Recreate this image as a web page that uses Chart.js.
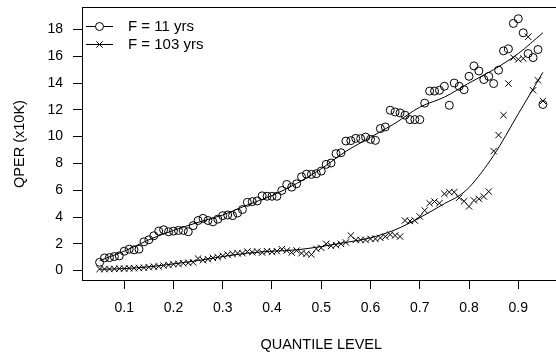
<!DOCTYPE html>
<html><head><meta charset="utf-8">
<script src="https://cdn.jsdelivr.net/npm/chart.js@4.4.1/dist/chart.umd.min.js"></script>
<style>
html,body{margin:0;padding:0;overflow:hidden;background:#fff;}
#wrap{width:556px;height:355px;overflow:hidden;position:relative;}
#c{display:block;}
</style></head><body>
<div id="wrap"><canvas id="c" width="566" height="355"></canvas></div>
<script>
// ---- data ----
const quantiles = [0.05,0.06,0.07,0.08,0.09,0.10,0.11,0.12,0.13,0.14,0.15,0.16,0.17,0.18,0.19,0.20,0.21,0.22,0.23,0.24,0.25,0.26,0.27,0.28,0.29,0.30,0.31,0.32,0.33,0.34,0.35,0.36,0.37,0.38,0.39,0.40,0.41,0.42,0.43,0.44,0.45,0.46,0.47,0.48,0.49,0.50,0.51,0.52,0.53,0.54,0.55,0.56,0.57,0.58,0.59,0.60,0.61,0.62,0.63,0.64,0.65,0.66,0.67,0.68,0.69,0.70,0.71,0.72,0.73,0.74,0.75,0.76,0.77,0.78,0.79,0.80,0.81,0.82,0.83,0.84,0.85,0.86,0.87,0.88,0.89,0.90,0.91,0.92,0.93,0.94,0.95];
const qperF11 = [0.62,0.95,0.97,1.05,1.1,1.45,1.6,1.55,1.6,2.15,2.3,2.6,2.95,3.05,2.9,2.95,3.0,3.0,2.9,3.36,3.74,3.9,3.74,3.64,3.84,4.1,4.15,4.1,4.3,4.56,5.1,5.15,5.2,5.58,5.55,5.55,5.55,5.98,6.43,6.23,6.48,7.0,7.2,7.18,7.23,7.43,7.93,8.03,8.73,8.8,9.67,9.7,9.87,9.85,9.97,9.8,9.72,10.6,10.72,11.97,11.84,11.77,11.6,11.27,11.27,11.27,12.5,13.4,13.4,13.46,13.76,12.34,14.0,13.76,13.5,14.5,15.28,14.9,14.26,14.5,13.96,14.96,16.4,16.55,18.45,18.8,17.75,16.2,15.9,16.5,12.4];
const qperF103 = [0.12,0.12,0.12,0.13,0.15,0.15,0.17,0.18,0.2,0.22,0.25,0.3,0.32,0.38,0.42,0.48,0.5,0.55,0.58,0.62,0.9,0.78,0.85,0.95,1.0,1.1,1.2,1.25,1.3,1.3,1.42,1.38,1.42,1.35,1.45,1.4,1.45,1.6,1.5,1.35,1.5,1.3,1.25,1.2,1.62,1.7,2.0,1.85,1.9,2.0,2.1,2.62,2.29,2.29,2.29,2.37,2.37,2.44,2.54,2.69,2.62,2.54,3.74,3.7,3.74,4.04,4.49,5.03,5.16,5.03,5.73,5.86,5.86,5.44,5.18,4.79,5.24,5.36,5.53,5.9,8.92,10.12,11.6,13.96,15.9,15.76,15.83,17.45,13.46,14.2,12.66];
const fitQuantiles11 = [0.05,0.10,0.15,0.20,0.25,0.30,0.35,0.40,0.45,0.50,0.55,0.60,0.65,0.70,0.75,0.80,0.85,0.90,0.95];
const fitF11 = [0.75,1.45,2.3,3.0,3.6,4.15,4.9,5.6,6.5,7.6,8.9,9.95,11.0,12.2,12.95,14.0,15.0,16.2,17.75];
const fitQuantiles103 = [0.05,0.10,0.15,0.20,0.25,0.30,0.35,0.40,0.45,0.50,0.55,0.60,0.65,0.70,0.75,0.78,0.80,0.85,0.90,0.95];
const fitF103 = [0.1,0.15,0.28,0.5,0.75,1.05,1.3,1.45,1.55,1.8,2.1,2.45,3.05,3.95,5.0,5.6,6.2,8.6,11.7,14.8];
const xTickValues = [0.1,0.2,0.3,0.4,0.5,0.6,0.7,0.8,0.9];
const xTickLabels = ['0.1','0.2','0.3','0.4','0.5','0.6','0.7','0.8','0.9'];
const yTickValues = [0,2,4,6,8,10,12,14,16,18];
const yTickLabels = ['0','2','4','6','8','10','12','14','16','18'];
const seriesLabels = ['F = 11 yrs','F = 103 yrs'];
const xTitle = 'QUANTILE LEVEL';
const yTitle = 'QPER (x10K)';

const FONT = '"Liberation Sans", Arial, Helvetica, sans-serif';
const pts = (xs, ys) => xs.map((x, i) => ({x: x, y: ys[i]}));

const legendPlugin = {
  id: 'rlegend',
  afterDatasetsDraw(chart) {
    const ctx = chart.ctx;
    const a = chart.chartArea;
    ctx.save();
    // top border of box
    ctx.strokeStyle = '#000';
    ctx.lineWidth = 1;
    ctx.beginPath();
    ctx.moveTo(a.left, Math.round(a.top) - 0.5);
    ctx.lineTo(a.right + 2, Math.round(a.top) - 0.5);
    ctx.stroke();
    const styles = ['circle', 'crossRot'];
    const rows = [26.5, 44.5];
    seriesLabels.forEach((lab, i) => {
      const y = rows[i];
      ctx.strokeStyle = '#000';
      ctx.lineWidth = 1;
      ctx.beginPath();
      ctx.moveTo(86, y); ctx.lineTo(113, y); ctx.stroke();
      ctx.fillStyle = '#fff';
      Chart.helpers.drawPoint(ctx, {pointStyle: styles[i], radius: i === 0 ? 4 : 4.5, rotation: 0, borderWidth: 1}, 99.5, y);
      ctx.fillStyle = '#000';
      ctx.font = '15px ' + FONT;
      ctx.textBaseline = 'middle';
      ctx.textAlign = 'left';
      ctx.fillText(lab, 128, y + 0.5);
    });
    ctx.restore();
  }
};

new Chart(document.getElementById('c'), {
  type: 'scatter',
  data: {
    datasets: [
      { label: seriesLabels[0], data: pts(quantiles, qperF11), pointStyle: 'circle', pointRadius: 4,
        borderColor: '#000', backgroundColor: 'rgba(0,0,0,0)', borderWidth: 1, showLine: false },
      { label: seriesLabels[1], data: pts(quantiles, qperF103), pointStyle: 'crossRot', pointRadius: 4.5,
        borderColor: '#000', backgroundColor: 'rgba(0,0,0,0)', borderWidth: 1, showLine: false },
      { label: 'fit11', data: pts(fitQuantiles11, fitF11), showLine: true, pointRadius: 0,
        borderColor: '#000', borderWidth: 1, cubicInterpolationMode: 'monotone', fill: false },
      { label: 'fit103', data: pts(fitQuantiles103, fitF103), showLine: true, pointRadius: 0,
        borderColor: '#000', borderWidth: 1, cubicInterpolationMode: 'monotone', fill: false }
    ]
  },
  options: {
    responsive: false,
    animation: false,
    events: [],
    layout: { padding: { top: 0, right: 1.5, bottom: 0, left: 0 } },
    plugins: { legend: { display: false }, tooltip: { enabled: false } },
    scales: {
      x: {
        type: 'linear', position: 'bottom', min: 0.0143, max: 0.9857,
        afterBuildTicks: s => { s.ticks = xTickValues.map(v => ({value: v})); },
        afterFit: s => { s.height = 75; },
        ticks: { color: '#000', font: { family: FONT, size: 14 }, padding: 11,
                 autoSkip: false, maxRotation: 0,
                 callback: (v, i) => xTickLabels[i] },
        grid: { drawOnChartArea: false, drawTicks: true, tickLength: 9, color: '#000', lineWidth: 1 },
        border: { display: true, color: '#000', width: 1 },
        title: { display: true, text: xTitle, color: '#000', font: { family: FONT, size: 14.5 }, padding: { top: 0, bottom: 1.5 } }
      },
      y: {
        type: 'linear', position: 'left', min: -0.7, max: 19.6,
        afterBuildTicks: s => { s.ticks = yTickValues.map(v => ({value: v})); },
        afterFit: s => { s.width = 82; s.paddingTop = 8; s.paddingBottom = 0; },
        ticks: { color: '#000', font: { family: FONT, size: 14 }, padding: 10,
                 callback: (v, i) => yTickLabels[i] },
        grid: { drawOnChartArea: false, drawTicks: true, tickLength: 9, color: '#000', lineWidth: 1 },
        border: { display: true, color: '#000', width: 1 },
        title: { display: true, text: yTitle, color: '#000', font: { family: FONT, size: 14.5 }, padding: { top: 11.3, bottom: 0 } }
      }
    }
  },
  plugins: [legendPlugin]
});
</script>
</body></html>
